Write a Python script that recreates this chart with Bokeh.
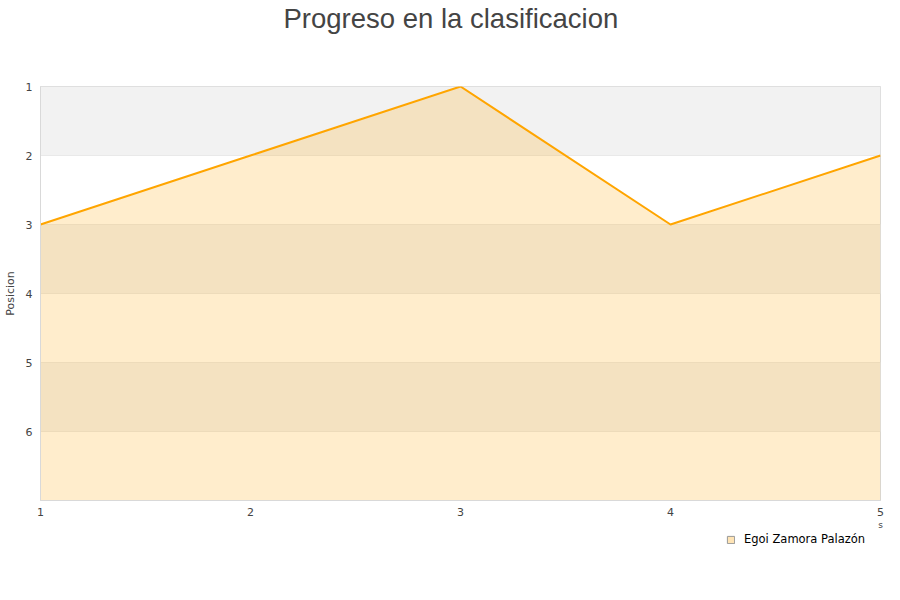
from bokeh.plotting import figure
from bokeh.layouts import column
from bokeh.models import Range1d, FixedTicker, Legend, LegendItem, LinearAxis, ColumnDataSource, Title
from bokeh.embed import file_html
from bokeh.resources import INLINE

jornadas = [1, 2, 3, 4, 5]
posiciones = [3, 2, 1, 3, 2]
y_ticks = [1, 2, 3, 4, 5, 6]
band_top = [1, 3, 5]
band_bottom = [2, 4, 6]
serie = "Egoi Zamora Palazón"
titulo = "Progreso en la clasificacion"
y_label = "Posicion"
x_label = "s"
y_bottom = 7

p = figure(frame_width=840, frame_height=414, output_backend="svg", toolbar_location=None,
           x_range=Range1d(1, 5), y_range=Range1d(y_bottom, 1),
           min_border_left=40, min_border_right=20, min_border_top=86, min_border_bottom=30)

p.title.text = titulo
p.title.align = "left"
p.title.text_font = "Liberation Sans"
p.title.text_font_size = "27.5px"
p.title.text_font_style = "normal"
p.title.text_color = "#444444"
p.title.standoff = 0
p.title.offset = 243

spacer = Title(text=" ", text_font_size="45px", standoff=0)
p.add_layout(spacer, "above")

p.outline_line_color = "#d9d9d9"
p.xgrid.grid_line_color = None
p.ygrid.grid_line_color = "#e0e0e0"
p.ygrid.ticker = FixedTicker(ticks=y_ticks)

p.yaxis.ticker = FixedTicker(ticks=y_ticks)
p.xaxis.ticker = FixedTicker(ticks=jornadas)
for ax in (p.xaxis[0], p.yaxis[0]):
    ax.axis_line_color = "#d9d9d9"
    ax.major_tick_line_color = None
    ax.minor_tick_line_color = None
    ax.major_tick_out = 0
    ax.major_tick_in = 0
    ax.major_label_text_font = "DejaVu Sans"
    ax.major_label_text_font_size = "11px"
    ax.major_label_text_color = "#444444"
p.yaxis.axis_label = y_label
p.yaxis.axis_label_text_font = "DejaVu Sans"
p.yaxis.axis_label_text_font_size = "11px"
p.yaxis.axis_label_text_font_style = "normal"
p.yaxis.axis_label_text_color = "#444444"
p.yaxis.major_label_standoff = 8
p.yaxis.axis_label_standoff = 6
p.xaxis.major_label_standoff = 7

ax2 = LinearAxis(ticker=FixedTicker(ticks=[jornadas[-1]]),
                 major_label_overrides={jornadas[-1]: x_label},
                 axis_line_color=None, major_tick_line_color=None, minor_tick_line_color=None,
                 major_tick_out=0, major_tick_in=0,
                 major_label_text_font="DejaVu Sans", major_label_text_font_size="9px",
                 major_label_text_color="#444444", major_label_standoff=1)
p.add_layout(ax2, "below")

p.quad(left=[jornadas[0]] * len(band_top), right=[jornadas[-1]] * len(band_top),
       top=band_top, bottom=band_bottom, fill_color="#f2f2f2", line_color=None)

src = ColumnDataSource(dict(x=jornadas, y=posiciones, base=[y_bottom] * len(jornadas)))
p.varea(x="x", y1="y", y2="base", source=src, fill_color="#ffa500", fill_alpha=0.2)
p.line(x="x", y="y", source=src, line_color="#ffa500", line_width=2)

# legend strip below the chart
q = figure(width=900, height=60, output_backend="svg", toolbar_location=None,
           x_range=Range1d(0, 1), y_range=Range1d(0, 1),
           x_axis_type=None, y_axis_type=None, min_border=0)
q.outline_line_color = None
q.xgrid.grid_line_color = None
q.ygrid.grid_line_color = None
leg_src = ColumnDataSource(dict(x=[-10], y=[-10]))
leg_r = q.rect(x="x", y="y", width=0.1, height=0.1, source=leg_src,
               fill_color="#ffe4b5", line_color="#999999", line_width=1)
legend = Legend(items=[LegendItem(label=serie, renderers=[leg_r])],
                location=(686, 46), orientation="horizontal",
                glyph_width=9, glyph_height=9, label_text_font="DejaVu Sans",
                label_text_font_size="11.5px", label_text_color="#000000",
                background_fill_alpha=0, border_line_color=None, padding=0, spacing=0,
                label_standoff=9, margin=0)
q.add_layout(legend, "center")

layout = column(p, q, spacing=0)
open("out.html", "w").write(file_html(layout, INLINE))
